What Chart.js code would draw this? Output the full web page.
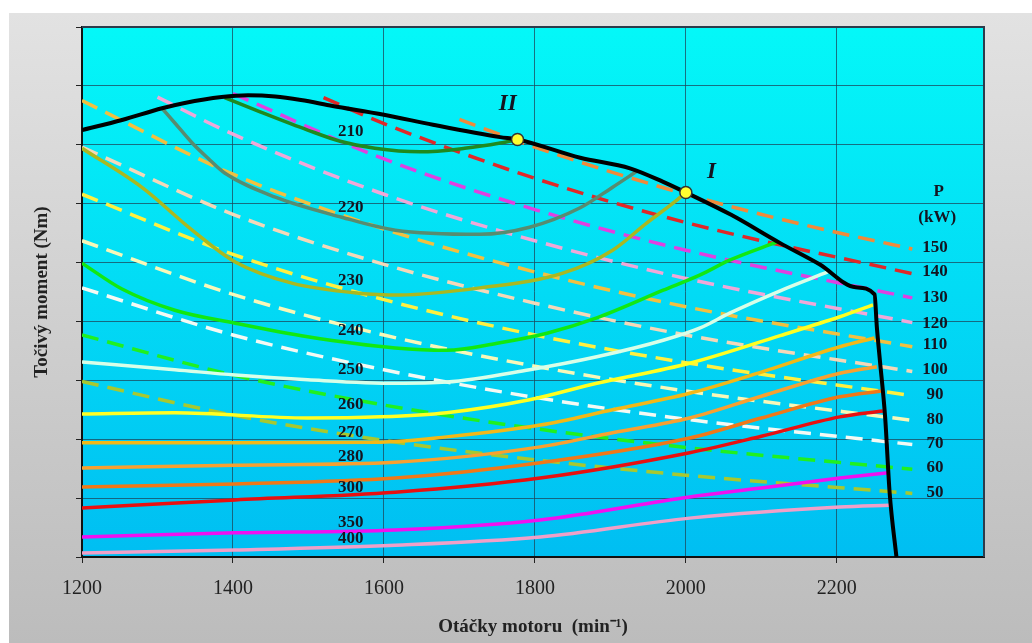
<!DOCTYPE html>
<html>
<head>
<meta charset="utf-8">
<script src="https://cdn.jsdelivr.net/npm/chart.js@4.4.1/dist/chart.umd.min.js"></script>
<style>
  html, body { margin: 0; padding: 0; background: #fff; }
  canvas { display: block; }
</style>
</head>
<body>
<canvas id="c" width="1032" height="643"></canvas>
<script>
const rpmTicks = [1200, 1400, 1600, 1800, 2000, 2200];

// full-load torque curve [rpm, Nm]
const fullLoad = [[1200, 825], [1253, 842], [1306, 862], [1336, 871], [1385, 881], [1420, 884], [1456, 882],
    [1490, 876], [1532, 866], [1600, 851], [1665, 834], [1754, 813], [1777, 809], [1860, 778], [1926, 760],
    [1970, 737], [2000, 719], [2060, 681], [2125, 633], [2177, 597], [2225, 558], [2250, 546],
    [2253, 491], [2257, 435], [2264, 338], [2270, 209], [2279, 100]];

// specific fuel consumption isolines (g/kWh) [rpm, Nm]
const iso210 = [[1389, 880], [1436, 856], [1499, 825], [1542, 806], [1588, 794], [1648, 788], [1707, 794], [1754, 803], [1777, 809]];
const iso220 = [[1306, 862], [1323, 837], [1346, 803], [1367, 777], [1389, 752], [1456, 711], [1544, 677], [1615, 655],
    [1727, 648], [1793, 660], [1860, 693], [1903, 728], [1935, 755]];
const iso230 = [[1200, 794], [1279, 728], [1346, 655], [1403, 601], [1478, 565], [1566, 548], [1621, 545], [1727, 557],
    [1837, 582], [1903, 621], [1948, 667], [1983, 701], [2000, 719]];
const iso240 = [[1200, 599], [1253, 555], [1323, 519], [1403, 497], [1499, 474], [1615, 455], [1683, 451], [1750, 463],
    [1816, 480], [1882, 506], [1970, 553], [2019, 579], [2058, 604], [2121, 635]];
const iso250 = [[1200, 431], [1323, 418], [1403, 409], [1499, 401], [1615, 395], [1683, 397], [1793, 418], [1882, 440],
    [1970, 468], [2019, 489], [2058, 514], [2125, 552], [2188, 584]];
const iso260 = [[1200, 343], [1323, 345], [1499, 336], [1595, 338], [1683, 345], [1793, 367], [1882, 395], [2005, 429],
    [2125, 476], [2204, 508], [2248, 528]];
const iso270 = [[1200, 294], [1403, 294], [1595, 295], [1683, 304], [1807, 324], [1903, 350], [2005, 378], [2100, 414],
    [2204, 457], [2250, 472]];
const iso280 = [[1200, 251], [1403, 256], [1615, 261], [1807, 287], [1903, 311], [2005, 336], [2100, 373], [2204, 412], [2253, 423]];
const iso290 = [[1200, 219], [1403, 224], [1615, 234], [1807, 260], [2005, 302], [2100, 336], [2204, 372], [2260, 382]];
const iso300 = [[1200, 183], [1403, 197], [1615, 210], [1807, 234], [2005, 277], [2100, 305], [2204, 338], [2261, 348]];
const iso350 = [[1200, 134], [1403, 141], [1615, 146], [1807, 163], [2005, 202], [2100, 217], [2204, 234], [2268, 243]];
const iso400 = [[1200, 107], [1403, 112], [1615, 120], [1807, 134], [2005, 166], [2204, 185], [2270, 188]];

// constant power lines (kW) [rpm, Nm]
const pow150 = [[1700, 843], [1800, 796], [2000, 716], [2150, 666], [2300, 623]];
const pow140 = [[1520, 880], [1600, 836], [1800, 743], [2000, 668], [2300, 581]];
const pow130 = [[1400, 887], [1600, 776], [1800, 690], [2000, 621], [2300, 540]];
const pow120 = [[1300, 881], [1400, 818], [1600, 716], [1800, 637], [2000, 573], [2300, 498]];
const pow110 = [[1200, 875], [1400, 750], [1600, 657], [1800, 584], [2000, 525], [2300, 457]];
const pow100 = [[1200, 796], [1400, 682], [1600, 597], [1800, 531], [2000, 477], [2300, 415]];
const pow90 = [[1200, 716], [1400, 614], [1600, 537], [1800, 477], [2000, 430], [2300, 374]];
const pow80 = [[1200, 637], [1400, 546], [1600, 477], [1800, 424], [2000, 382], [2300, 332]];
const pow70 = [[1200, 557], [1400, 477], [1600, 418], [1800, 371], [2000, 334], [2300, 291]];
const pow60 = [[1200, 477], [1400, 409], [1600, 358], [1800, 318], [2000, 286], [2300, 249]];
const pow50 = [[1200, 398], [1400, 341], [1600, 298], [1800, 265], [2000, 239], [2300, 208]];

// operating points I and II
const opPoints = [[2000, 719], [1777, 809]];
const opNames = ['I', 'II'];
const opNamePos = [[2034, 754], [1764, 869]];

const isoNames = ['210', '220', '230', '240', '250', '260', '270', '280', '300', '350', '400'];
const isoNameTq = [822, 694, 569, 485, 419, 358, 312, 271, 217, 159, 131];
const isoNameRpm = 1556;

const powNames = ['150', '140', '130', '120', '110', '100', '90', '80', '70', '60', '50'];
const powNameTq = [625, 584, 541, 497, 460, 418, 375, 333, 292, 251, 209];
const powNameRpm = 2330;

const isoSeries = [iso210, iso220, iso230, iso240, iso250, iso260, iso270, iso280, iso290, iso300, iso350, iso400];
const isoColors = ['#1f8a1f', '#578c70', '#aab820', '#12e812', '#d8ffe8', '#ffff22', '#f2b818', '#f8a030',
    '#f07818', '#e81010', '#f010f0', '#f0a0c8'];
const powSeries = [pow150, pow140, pow130, pow120, pow110, pow100, pow90, pow80, pow70, pow60, pow50];
const powColors = ['#f08a3a', '#e02828', '#e040e0', '#f0a8d8', '#f2c040', '#f4d8b8', '#fff040', '#f8f8b8',
    '#f4faf4', '#20f020', '#a8c830'];

const SERIF = '"Liberation Serif", "Times New Roman", serif';
const toXY = (arr) => arr.map(([x, y]) => ({ x, y }));

const datasets = [];
datasets.push({
    data: toXY(opPoints),
    showLine: false,
    pointRadius: 6,
    pointBackgroundColor: '#ffff30',
    pointBorderColor: '#333',
    pointBorderWidth: 1.5,
    order: 0,
});
datasets.push({
    data: toXY(fullLoad),
    borderColor: '#000',
    borderWidth: 4,
    pointRadius: 0,
    cubicInterpolationMode: 'monotone',
    order: 1,
});
isoSeries.forEach((s, i) => {
    datasets.push({
        data: toXY(s),
        borderColor: isoColors[i],
        borderWidth: 3.5,
        pointRadius: 0,
        cubicInterpolationMode: 'monotone',
        order: 2,
    });
});
powSeries.forEach((s, i) => {
    datasets.push({
        data: toXY(s),
        borderColor: powColors[i],
        borderWidth: 3.5,
        borderDash: [17, 9],
        pointRadius: 0,
        cubicInterpolationMode: 'monotone',
        order: 3,
    });
});

const backdrop = {
    id: 'backdrop',
    beforeDraw(chart) {
        const { ctx, width, height, chartArea: a } = chart;
        ctx.save();
        ctx.fillStyle = '#fff';
        ctx.fillRect(0, 0, width, height);
        const g = ctx.createLinearGradient(0, 13, 0, height);
        g.addColorStop(0, '#e2e2e2');
        g.addColorStop(1, '#bcbcbc');
        ctx.fillStyle = g;
        ctx.fillRect(9, 13, width - 9, height - 13);
        const p = ctx.createLinearGradient(0, a.top, 0, a.bottom);
        p.addColorStop(0, '#04f8f8');
        p.addColorStop(1, '#00bef2');
        ctx.fillStyle = p;
        ctx.fillRect(a.left, a.top, a.right - a.left, a.bottom - a.top);
        ctx.restore();
    },
    beforeDatasetsDraw(chart) {
        const { ctx, chartArea: a } = chart;
        ctx.save();
        ctx.strokeStyle = '#2c3c4c';
        ctx.lineWidth = 2;
        ctx.beginPath();
        ctx.moveTo(a.left, a.top);
        ctx.lineTo(a.right, a.top);
        ctx.lineTo(a.right, a.bottom);
        ctx.stroke();
        ctx.restore();
    },
};

const labels = {
    id: 'labels',
    afterDatasetsDraw(chart) {
        const { ctx, scales: { x, y } } = chart;
        ctx.save();
        ctx.fillStyle = '#141420';
        ctx.textAlign = 'center';
        ctx.textBaseline = 'middle';
        ctx.font = 'bold 17px ' + SERIF;
        isoNames.forEach((t, i) => {
            ctx.fillText(t, x.getPixelForValue(isoNameRpm), y.getPixelForValue(isoNameTq[i]));
        });
        powNames.forEach((t, i) => {
            ctx.fillText(t, x.getPixelForValue(powNameRpm), y.getPixelForValue(powNameTq[i]));
        });
        ctx.fillText('P', x.getPixelForValue(2335), y.getPixelForValue(720));
        ctx.fillText('(kW)', x.getPixelForValue(2333), y.getPixelForValue(676));
        ctx.font = 'italic bold 23px ' + SERIF;
        opNames.forEach((t, i) => {
            ctx.fillText(t, x.getPixelForValue(opNamePos[i][0]), y.getPixelForValue(opNamePos[i][1]));
        });
        ctx.restore();
    },
};

new Chart(document.getElementById('c'), {
    type: 'line',
    data: { datasets },
    plugins: [backdrop, labels],
    options: {
        responsive: false,
        animation: false,
        layout: { padding: { left: 0, top: 27, right: 48, bottom: 0 } },
        plugins: {
            legend: { display: false },
            tooltip: { enabled: false },
        },
        scales: {
            x: {
                type: 'linear',
                min: 1200,
                max: 2395,
                afterBuildTicks(s) { s.ticks = rpmTicks.map((v) => ({ value: v })); },
                ticks: {
                    autoSkip: false,
                    color: '#222',
                    font: { family: SERIF, size: 20 },
                    padding: 14,
                    maxRotation: 0,
                    callback: (v) => String(v),
                },
                grid: { color: 'rgba(30,70,90,0.75)', lineWidth: 1, tickLength: 6, tickColor: '#222' },
                border: { color: '#111', width: 2 },
                title: {
                    display: true,
                    text: 'Otáčky motoru  (min⁻¹)',
                    color: '#222',
                    font: { family: SERIF, size: 19, weight: 'bold' },
                    padding: { top: 0, bottom: 5 },
                },
                afterFit(s) { s.height = 86; },
            },
            y: {
                type: 'linear',
                min: 100,
                max: 1000,
                ticks: { stepSize: 100, display: false },
                grid: { color: 'rgba(30,70,90,0.75)', lineWidth: 1, tickLength: 6, tickColor: '#222' },
                border: { color: '#111', width: 2 },
                title: {
                    display: true,
                    text: 'Točivý moment (Nm)',
                    color: '#222',
                    font: { family: SERIF, size: 19, weight: 'bold' },
                    padding: { top: 31, bottom: 0 },
                },
                afterFit(s) { s.width = 82; },
            },
        },
    },
});
</script>
</body>
</html>
